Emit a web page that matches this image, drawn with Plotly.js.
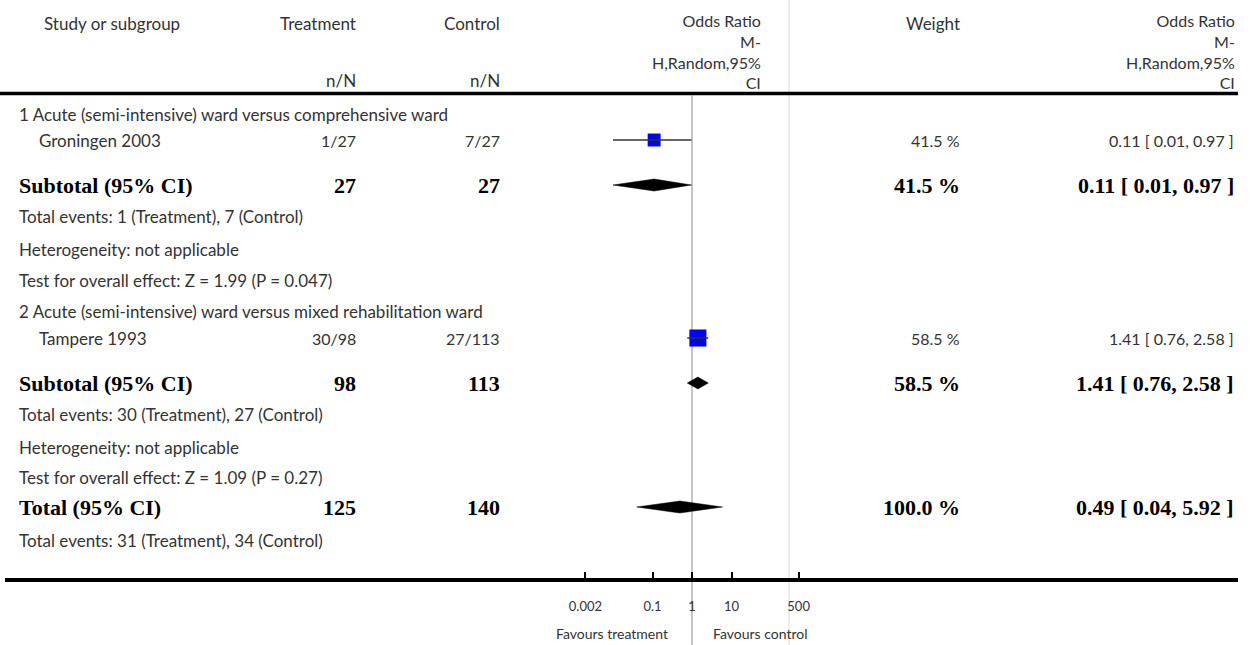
<!DOCTYPE html>
<html>
<head>
<meta charset="utf-8">
<script src="https://cdn.plot.ly/plotly-3.0.1.min.js"></script>
<style>html,body{margin:0;padding:0;background:#fff;}#chart{width:1252px;height:645px;}</style>
</head>
<body>
<div id="chart"></div>
<script>
// ---------------- DATA ----------------
const subgroupNames = [
  '1 Acute (semi-intensive) ward versus comprehensive ward',
  '2 Acute (semi-intensive) ward versus mixed rehabilitation ward'
];
const studyNames = ['Groningen 2003', 'Tampere 1993'];
const trtEvents = [1, 30];
const trtTotal = [27, 98];
const ctlEvents = [7, 27];
const ctlTotal = [27, 113];
const studyWeight = [41.5, 58.5];
const studyOR = [0.11, 1.41];
const studyLo = [0.01, 0.76];
const studyHi = [0.97, 2.58];

const subTrtN = [27, 98];
const subCtlN = [27, 113];
const subWeight = [41.5, 58.5];
const subOR = [0.11, 1.41];
const subLo = [0.01, 0.76];
const subHi = [0.97, 2.58];
const subTrtEvents = [1, 30];
const subCtlEvents = [7, 27];
const heterogeneity = ['not applicable', 'not applicable'];
const overallZ = ['1.99', '1.09'];
const overallP = ['0.047', '0.27'];

const totalTrtN = 125, totalCtlN = 140;
const totalWeight = 100.0;
const totalOR = 0.49, totalLo = 0.04, totalHi = 5.92;
const totalTrtEvents = 31, totalCtlEvents = 34;

const tickVals = [0.002, 0.1, 1, 10, 500];
const tickLabels = ['0.002', '0.1', '1', '10', '500'];
const favourLeft = 'Favours treatment';
const favourRight = 'Favours control';
const orHeaderLines = ['Odds Ratio', 'M-', 'H,Random,95%', 'CI'];

// ---------------- LAYOUT CONSTANTS ----------------
const W = 1252, H = 645;
const centerPx = 692, pxPerDecade = 39.5;
const axisLeftPx = 5, axisRightPx = 1238;
const xTextLeft = 17, xStudy = 37, xHeadStudy = 42;
const xTrtR = 358, xCtlR = 502, xWtR = 962, xOrR = 1236;
// row pixel positions per subgroup: header, study, subtotal, events, het, test
const groupRows = [[114, 140, 185, 216, 249, 280], [311, 338, 383, 414, 447, 477]];
const totalRowY = 507, totalEventsY = 540;
const headLineY = 93.5, axisLineY = 580;

const FONT = 'Lato, "Open Sans", "DejaVu Sans", sans-serif';
const SERIF = '"Liberation Serif", "DejaVu Serif", serif';
const reg = {family: FONT, size: 17, color: '#333'};
const hdr = {family: FONT, size: 16, color: '#333'};
const small = {family: FONT, size: 17, color: '#333'};
const num = {family: FONT, size: 16, color: '#333'};
const bold = {family: SERIF, size: 22, color: '#000', weight: 'bold'};

const fmt2 = v => v.toFixed(2);
const orText = (e, l, h) => fmt2(e) + ' [ ' + fmt2(l) + ', ' + fmt2(h) + ' ]';
const wtText = w => w.toFixed(1) + ' %';

const ann = [];
function txt(text, xpx, y, anchor, font, extra) {
  ann.push(Object.assign({text: text, xref: 'paper', yref: 'y', x: xpx / W, y: y,
    xanchor: anchor, yanchor: 'middle', showarrow: false, font: font}, extra || {}));
}

// headers
txt('Study or subgroup', xHeadStudy, 23, 'left', reg);
txt('Treatment', xTrtR, 23, 'right', reg);
txt('Control', xCtlR, 23, 'right', reg);
txt('n/N', xTrtR, 80, 'right', reg);
txt('n/N', xCtlR, 80, 'right', reg);
txt(orHeaderLines.join('<br>'), 763, 51, 'right', hdr, {align: 'right'});
txt('Weight', xWtR, 23, 'right', reg);
txt(orHeaderLines.join('<br>'), 1237, 51, 'right', hdr, {align: 'right'});

const traces = [];
function diamond(lo, est, hi, y) {
  const h = 6;
  traces.push({type: 'scatter', mode: 'lines', x: [lo, est, hi, est, lo], y: [y, y - h, y, y + h, y],
    fill: 'toself', fillcolor: '#000', line: {color: '#000', width: 0.5}, hoverinfo: 'skip', showlegend: false});
}

for (let g = 0; g < 2; g++) {
  const r = groupRows[g];
  txt(subgroupNames[g], xTextLeft, r[0], 'left', small);
  txt(studyNames[g], xStudy, r[1], 'left', small);
  txt(trtEvents[g] + '/' + trtTotal[g], xTrtR, r[1], 'right', num);
  txt(ctlEvents[g] + '/' + ctlTotal[g], xCtlR, r[1], 'right', num);
  txt(wtText(studyWeight[g]), xWtR, r[1], 'right', num);
  txt(orText(studyOR[g], studyLo[g], studyHi[g]), xOrR, r[1], 'right', num);

  txt('Subtotal (95% CI)', xTextLeft, r[2], 'left', bold);
  txt(String(subTrtN[g]), xTrtR, r[2], 'right', bold);
  txt(String(subCtlN[g]), xCtlR, r[2], 'right', bold);
  txt(wtText(subWeight[g]), xWtR, r[2], 'right', bold);
  txt(orText(subOR[g], subLo[g], subHi[g]), xOrR, r[2], 'right', bold);

  txt('Total events: ' + subTrtEvents[g] + ' (Treatment), ' + subCtlEvents[g] + ' (Control)', xTextLeft, r[3], 'left', small);
  txt('Heterogeneity: ' + heterogeneity[g], xTextLeft, r[4], 'left', small);
  txt('Test for overall effect: Z = ' + overallZ[g] + ' (P = ' + overallP[g] + ')', xTextLeft, r[5], 'left', small);

  // study square
  traces.push({type: 'scatter', mode: 'markers', x: [studyOR[g]], y: [r[1]],
    marker: {symbol: 'square', color: '#0000ff', size: 3 + studyWeight[g] * 0.24, line: {width: 0}},
    hoverinfo: 'skip', showlegend: false});
  // CI line
  traces.push({type: 'scatter', mode: 'lines', x: [studyLo[g], studyHi[g]], y: [r[1], r[1]],
    line: {color: '#333', width: 1.5}, hoverinfo: 'skip', showlegend: false});
  traces.push({type: 'scatter', mode: 'markers', x: [studyOR[g]], y: [r[1]],
    marker: {symbol: 'line-ns', size: 6, line: {color: '#222', width: 1}}, hoverinfo: 'skip', showlegend: false});
  diamond(subLo[g], subOR[g], subHi[g], r[2]);
}

txt('Total (95% CI)', xTextLeft, totalRowY, 'left', bold);
txt(String(totalTrtN), xTrtR, totalRowY, 'right', bold);
txt(String(totalCtlN), xCtlR, totalRowY, 'right', bold);
txt(wtText(totalWeight), xWtR, totalRowY, 'right', bold);
txt(orText(totalOR, totalLo, totalHi), xOrR, totalRowY, 'right', bold);
txt('Total events: ' + totalTrtEvents + ' (Treatment), ' + totalCtlEvents + ' (Control)', xTextLeft, totalEventsY, 'left', small);
diamond(totalLo, totalOR, totalHi, totalRowY);

txt(favourLeft, 670, 633, 'right', {family: FONT, size: 14, color: '#333'});
txt(favourRight, 711, 633, 'left', {family: FONT, size: 14, color: '#333'});

// reference line at OR = 1
traces.unshift({type: 'scatter', mode: 'lines', x: [1, 1], y: [headLineY + 2, H],
  line: {color: '#b0b0b0', width: 1.5}, hoverinfo: 'skip', showlegend: false});
// invisible trace to activate bottom axis
traces.push({type: 'scatter', mode: 'markers', x: tickVals, y: tickVals.map(() => axisLineY), xaxis: 'x2',
  marker: {opacity: 0}, hoverinfo: 'skip', showlegend: false});

const lg = p => (p - centerPx) / pxPerDecade;

const layout = {
  width: W, height: H,
  margin: {l: 0, r: 0, t: 0, b: 0},
  paper_bgcolor: '#fff', plot_bgcolor: 'rgba(0,0,0,0)',
  showlegend: false,
  xaxis: {type: 'log', range: [lg(0), lg(W)], domain: [0, 1], visible: false, fixedrange: true},
  xaxis2: {type: 'log', range: [lg(axisLeftPx), lg(axisRightPx)], domain: [axisLeftPx / W, axisRightPx / W],
    anchor: 'free', position: (H - axisLineY) / H, side: 'bottom',
    showline: true, linecolor: '#000', linewidth: 4, showgrid: false, zeroline: false,
    ticks: 'inside', ticklen: 6, tickwidth: 2, tickcolor: '#000',
    tickmode: 'array', tickvals: tickVals, ticktext: tickLabels, ticklabelstandoff: 13,
    tickfont: {family: FONT, size: 13, color: '#333'}, fixedrange: true},
  yaxis: {range: [H, 0], domain: [0, 1], visible: false, fixedrange: true},
  shapes: [
    {type: 'line', xref: 'paper', yref: 'y', x0: 789 / W, x1: 789 / W, y0: 0, y1: H,
      line: {color: '#e6e6e6', width: 1.5}, layer: 'below'},
    {type: 'line', xref: 'paper', yref: 'y', x0: 0, x1: axisRightPx / W, y0: headLineY, y1: headLineY,
      line: {color: '#000', width: 3.5}}
  ],
  annotations: ann
};

Plotly.newPlot('chart', traces, layout, {staticPlot: true, displayModeBar: false});
</script>
</body>
</html>
